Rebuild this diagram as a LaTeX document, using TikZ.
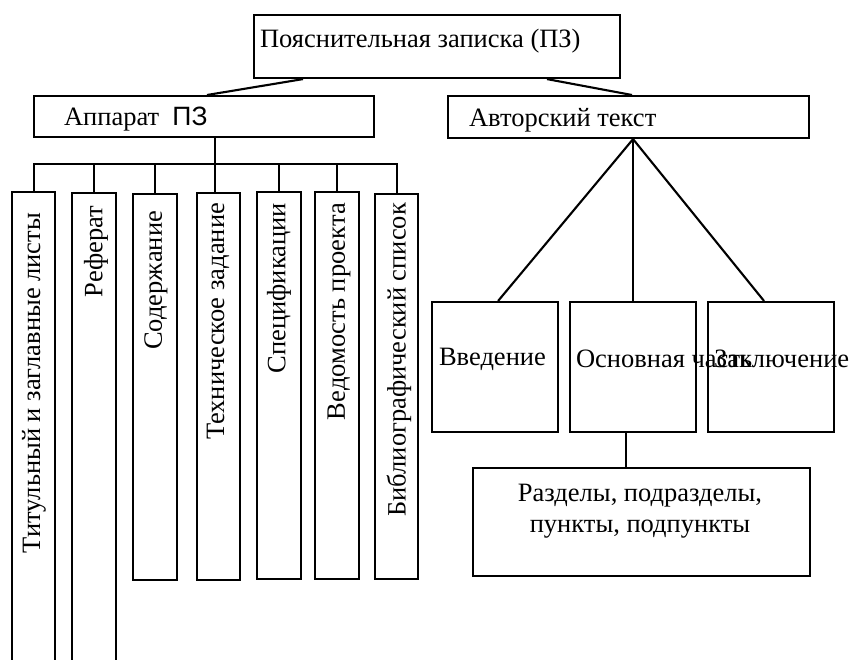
\documentclass[tikz,border=0pt]{standalone}
\usepackage{fontspec}
\setmainfont{Liberation Serif}
\newfontfamily\arialfont{Liberation Sans}
\begin{document}
\begin{tikzpicture}[x=1pt,y=-1pt, line width=2.1pt,
  box/.style={draw, rectangle, inner sep=0pt, anchor=north west},
  txt/.style={inner sep=0pt, font=\fontsize{26.5}{31}\selectfont},
  vtxt/.style={txt, rotate=90, anchor=east}]
\useasboundingbox (0,0) rectangle (850,659);
% boxes
\node[box, minimum width=366pt, minimum height=63pt] (top) at (253,14) {};
\node[box, minimum width=340pt, minimum height=41pt] (app) at (33,95) {};
\node[box, minimum width=361pt, minimum height=42pt] (aut) at (447,95) {};
\node[txt, anchor=west] (ttop) at (259,41) {Пояснительная записка (ПЗ)};
\node[txt, anchor=west] (tapp) at (63,119) {Аппарат\ \ {\arialfont ПЗ}};
\node[txt, anchor=west] (taut) at (468,120) {Авторский текст};
% vertical boxes
\node[box, minimum width=43pt, minimum height=520pt] (v1) at (11,191) {};
\node[box, minimum width=44pt, minimum height=520pt] (v2) at (71,192) {};
\node[box, minimum width=44pt, minimum height=386pt] (v3) at (132,193) {};
\node[box, minimum width=43pt, minimum height=387pt] (v4) at (196,192) {};
\node[box, minimum width=44pt, minimum height=387pt] (v5) at (256,191) {};
\node[box, minimum width=44pt, minimum height=387pt] (v6) at (314,191) {};
\node[box, minimum width=43pt, minimum height=385pt] (v7) at (374,193) {};
\node[vtxt] (t1) at (34,212) {Титульный и заглавные листы};
\node[vtxt] (t2) at (96,205) {Реферат};
\node[vtxt] (t3) at (156,210) {Содержание};
\node[vtxt] (t4) at (218,202) {Техническое задание};
\node[vtxt] (t5) at (279,202) {Спецификации};
\node[vtxt] (t6) at (339,202) {Ведомость проекта};
\node[vtxt] (t7) at (399,202) {Библиографический список};
% right lower boxes
\node[box, minimum width=126pt, minimum height=130pt] (vv) at (431,301) {};
\node[box, minimum width=126pt, minimum height=130pt] (os) at (569,301) {};
\node[box, minimum width=126pt, minimum height=130pt] (zk) at (707,301) {};
\node[txt, anchor=west] (tvv) at (438,359) {Введение};
\node[txt, anchor=west] (tos) at (575,359) {Основная часть};
\node[txt, anchor=west] (tzk) at (713,359) {Заключение};
\node[box, minimum width=337pt, minimum height=108pt] (rz) at (472,467) {};
\node[txt, align=center] (trz) at (640,511) {Разделы, подразделы,\\пункты, подпункты};
% connectors
\draw ([xshift=50pt]top.south west) -- ([xshift=174pt]app.north west);
\draw ([xshift=294pt]top.south west) -- ([xshift=185pt]aut.north west);
\coordinate (appb) at ([xshift=182pt]app.south west);
\coordinate (bus) at (215,164);
\draw (appb) -- (bus);
\draw (v1.north) |- (bus);
\draw (v2.north) |- (bus);
\draw (v3.north) |- (bus);
\draw (bus) -- (bus |- v4.north);
\draw (v5.north) |- (bus);
\draw (v6.north) |- (bus);
\draw (v7.north) |- (bus);
\coordinate (ab) at (aut.south -| os.north);
\draw ([xshift=3pt]vv.north) -- (ab) -- ([xshift=-7pt]zk.north);
\draw (ab) -- (os.north);
\coordinate (osb) at ([xshift=-7pt]os.south);
\draw (osb) -- (osb |- rz.north);
\end{tikzpicture}
\end{document}
